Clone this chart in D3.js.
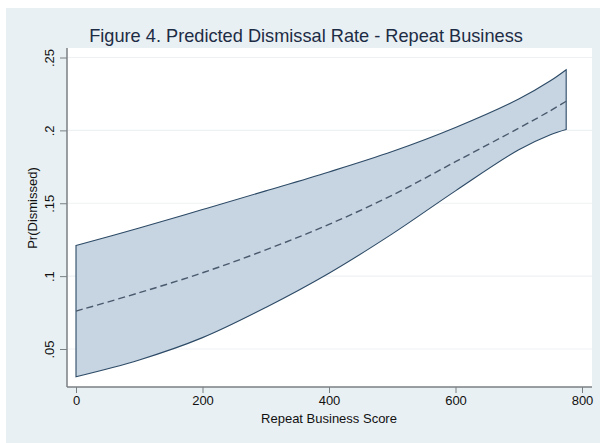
<!DOCTYPE html>
<html>
<head>
<meta charset="utf-8">
<script src="https://cdn.jsdelivr.net/npm/d3@7"></script>
<style>
  html, body { margin: 0; padding: 0; background: #ffffff; }
  svg { display: block; }
  text { font-family: "Liberation Sans", Arial, Helvetica, sans-serif; }
</style>
</head>
<body>
<svg id="chart" width="600" height="443"></svg>
<script>
// Predicted dismissal probability with 95% confidence band
const scores    = [0, 100, 200, 300, 400, 500, 600, 700, 750, 775];
const predicted = [0.076, 0.0886, 0.1023, 0.118, 0.1355, 0.1555, 0.1785, 0.2015, 0.2135, 0.220];
const upperCI   = [0.121, 0.133, 0.1457, 0.1585, 0.1715, 0.1855, 0.2020, 0.2215, 0.2340, 0.2416];
const lowerCI   = [0.031, 0.0425, 0.0578, 0.0785, 0.1020, 0.129, 0.1585, 0.1867, 0.1970, 0.2006];

const xTicks = [0, 200, 400, 600, 800];
const yTicks = [0.05, 0.10, 0.15, 0.20, 0.25];
const yTickLabels = [".05", ".1", ".15", ".2", ".25"];

const titleText = "Figure 4. Predicted Dismissal Rate - Repeat Business";
const xTitle = "Repeat Business Score";
const yTitle = "Pr(Dismissed)";

const svg = d3.select("#chart");

// outer graph region
svg.append("rect")
  .attr("x", 6).attr("y", 8).attr("width", 594).attr("height", 435)
  .attr("fill", "#e9f0f3");

// plot region
const plot = { left: 67, right: 592, top: 48, bottom: 387 };
svg.append("rect")
  .attr("x", plot.left).attr("y", plot.top)
  .attr("width", plot.right - plot.left).attr("height", plot.bottom - plot.top)
  .attr("fill", "#ffffff");

const x = d3.scaleLinear().domain([0, 800]).range([76, 582]);
const y = d3.scaleLinear().domain([0.05, 0.25]).range([349, 57.5]);

// horizontal grid lines
svg.append("g").selectAll("line")
  .data(yTicks).join("line")
  .attr("x1", plot.left + 1).attr("x2", plot.right)
  .attr("y1", d => y(d)).attr("y2", d => y(d))
  .attr("stroke", "#eef1f3").attr("stroke-width", 1.2);

const rows = scores.map((s, i) => ({ s, p: predicted[i], lo: lowerCI[i], hi: upperCI[i] }));

// confidence band, outlined on all sides
const band = d3.area()
  .x(d => x(d.s)).y0(d => y(d.lo)).y1(d => y(d.hi))
  .curve(d3.curveCatmullRom);
svg.append("path")
  .datum(rows)
  .attr("d", band)
  .attr("fill", "#c7d4e1")
  .attr("stroke", "#2c4a66")
  .attr("stroke-width", 1.1)
  .attr("stroke-linejoin", "miter");

// predicted rate, dashed
const meanLine = d3.line().x(d => x(d.s)).y(d => y(d.p)).curve(d3.curveCatmullRom);
svg.append("path")
  .datum(rows)
  .attr("d", meanLine)
  .attr("fill", "none")
  .attr("stroke", "#4a5a6e")
  .attr("stroke-width", 1.4)
  .attr("stroke-dasharray", "7,4");

// axes
const axisColor = "#7a7f84";
svg.append("line")
  .attr("x1", plot.left).attr("x2", plot.left)
  .attr("y1", plot.top).attr("y2", plot.bottom)
  .attr("stroke", axisColor).attr("stroke-width", 1.5);
svg.append("line")
  .attr("x1", plot.left).attr("x2", plot.right)
  .attr("y1", plot.bottom).attr("y2", plot.bottom)
  .attr("stroke", axisColor).attr("stroke-width", 1.5);

const xAxis = d3.axisBottom(x).tickValues(xTicks).tickSize(6).tickPadding(3)
  .tickFormat(d3.format("d"));
const gx = svg.append("g").attr("transform", `translate(0,${plot.bottom})`).call(xAxis);
gx.select(".domain").remove();
gx.selectAll(".tick line").attr("stroke", axisColor).attr("stroke-width", 1);
gx.selectAll(".tick text")
  .attr("fill", "#111111").attr("font-size", 13)
  .attr("font-family", "Liberation Sans, Arial, sans-serif");

const yAxis = d3.axisLeft(y).tickValues(yTicks).tickSize(7).tickPadding(0)
  .tickFormat((d, i) => yTickLabels[i]);
const gy = svg.append("g").attr("transform", `translate(${plot.left},0)`).call(yAxis);
gy.select(".domain").remove();
gy.selectAll(".tick line").attr("stroke", axisColor).attr("stroke-width", 1);
gy.selectAll(".tick text")
  .attr("fill", "#111111").attr("font-size", 13)
  .attr("font-family", "Liberation Sans, Arial, sans-serif")
  .attr("x", null).attr("dy", null)
  .attr("text-anchor", "middle")
  .attr("transform", "translate(-13,0) rotate(-90)");

// titles
svg.append("text")
  .attr("x", 306).attr("y", 42)
  .attr("text-anchor", "middle")
  .attr("font-size", 18.2)
  .attr("fill", "#1d2c45")
  .text(titleText);

svg.append("text")
  .attr("x", 329).attr("y", 423)
  .attr("text-anchor", "middle")
  .attr("font-size", 13)
  .attr("fill", "#111111")
  .text(xTitle);

svg.append("text")
  .attr("transform", "translate(37,208) rotate(-90)")
  .attr("text-anchor", "middle")
  .attr("font-size", 13)
  .attr("fill", "#111111")
  .text(yTitle);
</script>
</body>
</html>
